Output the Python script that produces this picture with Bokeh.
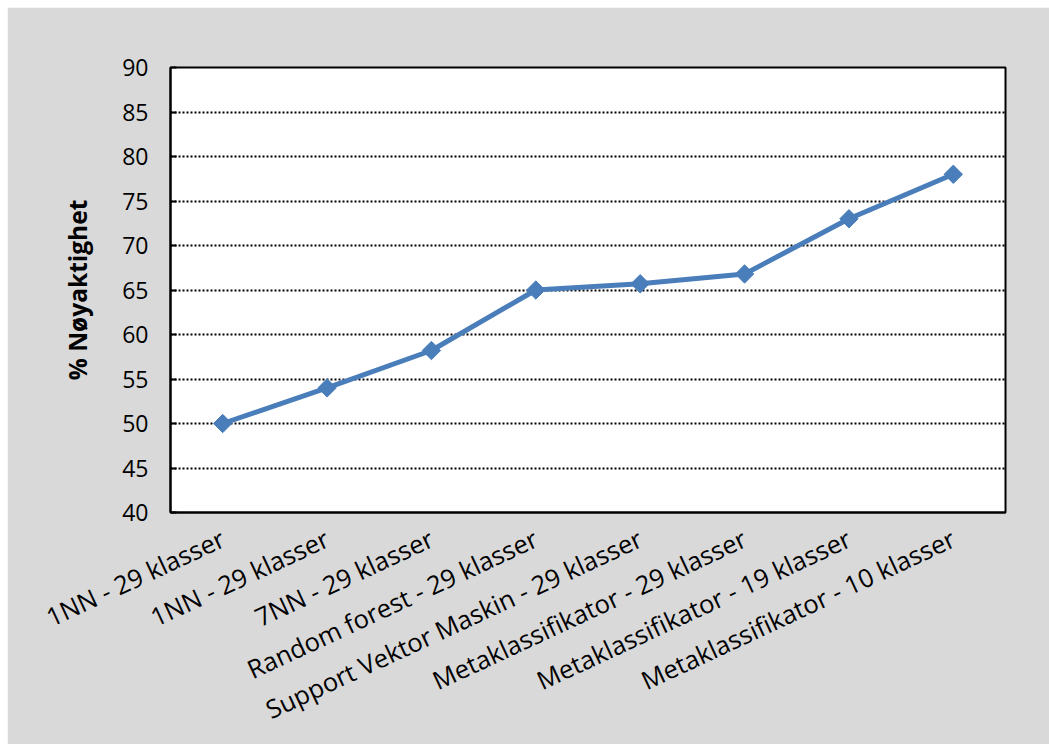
from bokeh.plotting import figure
from bokeh.models import FixedTicker, ColumnDataSource, Range1d
from bokeh.embed import file_html
from bokeh.resources import INLINE
import math

# Classifier configurations and their accuracy (%)
labels = [
    "1NN - 29 klasser",
    "1NN - 29 klasser",
    "7NN - 29 klasser",
    "Random forest - 29 klasser",
    "Support Vektor Maskin - 29 klasser",
    "Metaklassifikator - 29 klasser",
    "Metaklassifikator - 19 klasser",
    "Metaklassifikator - 10 klasser",
]
accuracy = [50, 54, 58.2, 65, 65.7, 66.8, 73, 78]
y_ticks = [40, 45, 50, 55, 60, 65, 70, 75, 80, 85, 90]

positions = list(range(len(labels)))
src = ColumnDataSource(data=dict(x=positions, y=accuracy))

BLUE = "#4a7ebb"
GRAY = "#d9d9d9"
FONT = "Open Sans"

p = figure(
    width=1042, height=737,
    output_backend="svg", toolbar_location=None,
    x_range=Range1d(-0.5, len(labels) - 0.5),
    y_range=Range1d(40, 90),
    background_fill_color="white",
    border_fill_color=GRAY,
    min_border_left=163, min_border_right=44,
    min_border_top=60, min_border_bottom=231,
)
p.margin = (7, 0, 0, 7)

p.outline_line_color = "black"
p.outline_line_width = 2

# Grid: dotted horizontal lines only
p.xgrid.grid_line_color = None
p.ygrid.ticker = FixedTicker(ticks=y_ticks)
p.ygrid.grid_line_color = "black"
p.ygrid.grid_line_dash = "2 2"
p.ygrid.grid_line_width = 2

# Y axis
p.yaxis.ticker = FixedTicker(ticks=y_ticks)
p.yaxis.axis_line_color = "black"
p.yaxis.axis_line_width = 2
p.yaxis.major_tick_in = 6
p.yaxis.major_tick_out = 0
p.yaxis.major_tick_line_width = 2
p.yaxis.minor_tick_line_color = None
p.yaxis.major_label_text_font = FONT
p.yaxis.major_label_text_font_size = "23px"
p.yaxis.major_label_text_color = "black"
p.yaxis.major_label_standoff = 22
p.yaxis.axis_label = "% Nøyaktighet"
p.yaxis.axis_label_text_font = FONT
p.yaxis.axis_label_text_font_style = "bold"
p.yaxis.axis_label_text_font_size = "24.5px"
p.yaxis.axis_label_text_color = "black"
p.yaxis.axis_label_standoff = 25

# X axis with category names
p.xaxis.ticker = FixedTicker(ticks=positions)
p.xaxis.major_label_overrides = {i: lab for i, lab in zip(positions, labels)}
p.xaxis.major_label_orientation = math.radians(25)
p.xaxis.axis_line_color = "black"
p.xaxis.axis_line_width = 2
p.xaxis.major_tick_line_color = None
p.xaxis.minor_tick_line_color = None
p.xaxis.major_label_text_font = FONT
p.xaxis.major_label_text_font_size = "25.5px"
p.xaxis.major_label_text_color = "black"
p.xaxis.major_label_standoff = 18

p.line("x", "y", source=src, line_color=BLUE, line_width=5)
p.scatter("x", "y", source=src, marker="square", size=13, angle=math.pi / 4,
          fill_color=BLUE, line_color=BLUE)

open("out.html", "w").write(file_html(p, INLINE))
